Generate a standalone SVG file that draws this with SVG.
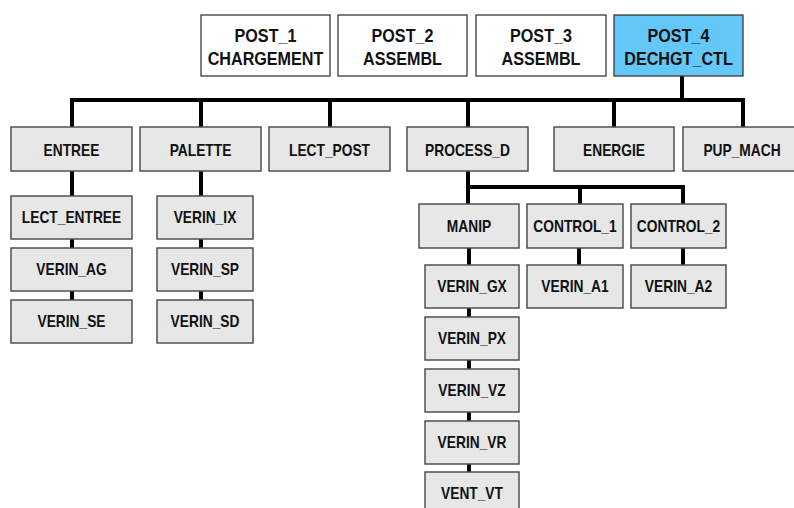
<svg xmlns="http://www.w3.org/2000/svg" width="794" height="508" viewBox="0 0 794 508">
<style>
.top{fill:#fff;stroke:#3a3a3a;stroke-width:1.3}
.hi{fill:#63c7f7;stroke:#3a3a3a;stroke-width:1.3}
.box{fill:#e7e7e7;stroke:#505050;stroke-width:1.5}
text{font-family:"Liberation Sans",Arial,sans-serif;font-weight:bold;fill:#111;text-anchor:middle}
.t1{font-size:19px}
.t2{font-size:16.2px}
.c{stroke:#000;stroke-width:4;fill:none;stroke-linecap:square}
</style>
<rect width="794" height="508" fill="#fff"/>
<g id="connectors">
<path class="c" d="M682 76V100M72 100H743M72 100V127M201 100V127M330 100V127M468 100V127M614 100V127M743 100V127"/>
<path class="c" d="M72 171V196M72 239V248M72 291V300"/>
<path class="c" d="M201 171V196M201 239V248M201 291V300"/>
<path class="c" d="M468 171V187H683V204M580 187V204M468 187V204"/>
<path class="c" d="M469 248V265M469 308V317M469 360V369M469 412V421M469 464V472"/>
<path class="c" d="M579 248V265M683 248V265"/>
</g>
<g id="post1"><rect class="top" x="201" y="15" width="129" height="61"/><text class="t1" transform="translate(265.5 41.5) scale(.85 1)">POST_1</text><text class="t1" transform="translate(265.5 65) scale(.85 1)">CHARGEMENT</text></g>
<g id="post2"><rect class="top" x="338" y="15" width="129" height="61"/><text class="t1" transform="translate(402.5 41.5) scale(.85 1)">POST_2</text><text class="t1" transform="translate(402.5 65) scale(.85 1)">ASSEMBL</text></g>
<g id="post3"><rect class="top" x="476" y="15" width="130" height="61"/><text class="t1" transform="translate(541 41.5) scale(.85 1)">POST_3</text><text class="t1" transform="translate(541 65) scale(.85 1)">ASSEMBL</text></g>
<g id="post4"><rect class="hi" x="614" y="15" width="129" height="61"/><text class="t1" transform="translate(678.5 41.5) scale(.85 1)">POST_4</text><text class="t1" transform="translate(678.5 65) scale(.85 1)">DECHGT_CTL</text></g>

<g id="entree"><rect class="box" x="11" y="127" width="121" height="44"/><text class="t2" transform="translate(71.5 155.5) scale(.85 1)">ENTREE</text></g>
<g id="palette"><rect class="box" x="140" y="127" width="121" height="44"/><text class="t2" transform="translate(200.5 155.5) scale(.85 1)">PALETTE</text></g>
<g id="lect_post"><rect class="box" x="269" y="127" width="121" height="44"/><text class="t2" transform="translate(329.5 155.5) scale(.85 1)">LECT_POST</text></g>
<g id="process_d"><rect class="box" x="407" y="127" width="121" height="44"/><text class="t2" transform="translate(467.5 155.5) scale(.85 1)">PROCESS_D</text></g>
<g id="energie"><rect class="box" x="554" y="127" width="120" height="44"/><text class="t2" transform="translate(614 155.5) scale(.85 1)">ENERGIE</text></g>
<g id="pup_mach"><rect class="box" x="683" y="127" width="121" height="44"/><text class="t2" transform="translate(742 155.5) scale(.85 1)">PUP_MACH</text></g>

<g id="lect_entree"><rect class="box" x="11" y="196" width="121" height="43"/><text class="t2" transform="translate(71.5 223) scale(.85 1)">LECT_ENTREE</text></g>
<g id="verin_ag"><rect class="box" x="11" y="248" width="121" height="43"/><text class="t2" transform="translate(71.5 275) scale(.85 1)">VERIN_AG</text></g>
<g id="verin_se"><rect class="box" x="11" y="300" width="121" height="43"/><text class="t2" transform="translate(71.5 327) scale(.85 1)">VERIN_SE</text></g>

<g id="verin_ix"><rect class="box" x="157" y="196" width="96" height="43"/><text class="t2" transform="translate(205 223) scale(.85 1)">VERIN_IX</text></g>
<g id="verin_sp"><rect class="box" x="157" y="248" width="96" height="43"/><text class="t2" transform="translate(205 275) scale(.85 1)">VERIN_SP</text></g>
<g id="verin_sd"><rect class="box" x="157" y="300" width="96" height="43"/><text class="t2" transform="translate(205 327) scale(.85 1)">VERIN_SD</text></g>

<g id="manip"><rect class="box" x="419" y="204" width="100" height="44"/><text class="t2" transform="translate(469 232) scale(.85 1)">MANIP</text></g>
<g id="control_1"><rect class="box" x="527" y="204" width="96" height="44"/><text class="t2" transform="translate(575 232) scale(.85 1)">CONTROL_1</text></g>
<g id="control_2"><rect class="box" x="631" y="204" width="95" height="44"/><text class="t2" transform="translate(678.5 232) scale(.85 1)">CONTROL_2</text></g>

<g id="verin_gx"><rect class="box" x="425" y="265" width="94" height="43"/><text class="t2" transform="translate(472 292) scale(.85 1)">VERIN_GX</text></g>
<g id="verin_a1"><rect class="box" x="527" y="265" width="96" height="43"/><text class="t2" transform="translate(575 292) scale(.85 1)">VERIN_A1</text></g>
<g id="verin_a2"><rect class="box" x="631" y="265" width="95" height="43"/><text class="t2" transform="translate(678.5 292) scale(.85 1)">VERIN_A2</text></g>

<g id="verin_px"><rect class="box" x="425" y="317" width="94" height="43"/><text class="t2" transform="translate(472 344) scale(.85 1)">VERIN_PX</text></g>
<g id="verin_vz"><rect class="box" x="425" y="369" width="94" height="43"/><text class="t2" transform="translate(472 396) scale(.85 1)">VERIN_VZ</text></g>
<g id="verin_vr"><rect class="box" x="425" y="421" width="94" height="43"/><text class="t2" transform="translate(472 448) scale(.85 1)">VERIN_VR</text></g>
<g id="vent_vt"><rect class="box" x="425" y="472" width="94" height="50"/><text class="t2" transform="translate(472 499) scale(.85 1)">VENT_VT</text></g>
</svg>
